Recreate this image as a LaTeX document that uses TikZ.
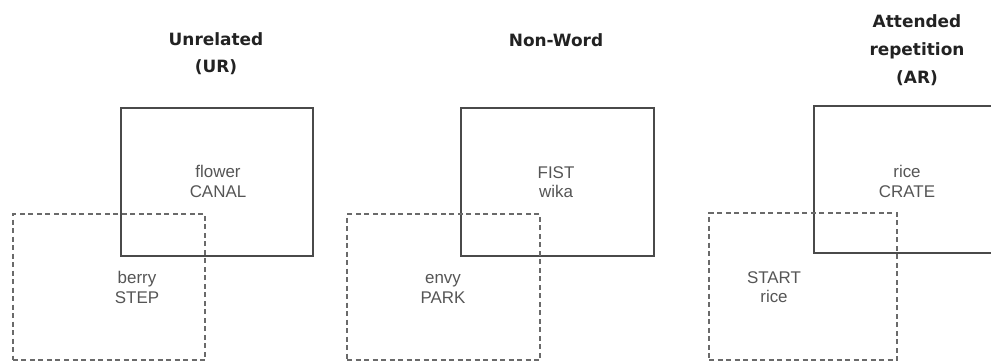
\documentclass[tikz,border=0pt]{standalone}
\usepackage{fontspec}
\setmainfont{Liberation Sans}
\newfontfamily\titlefont{DejaVu Sans}
\definecolor{boxgray}{HTML}{4A4A4A}
\definecolor{dashgray}{HTML}{6A6A6A}
\definecolor{lblgray}{HTML}{555555}
\definecolor{ttlcol}{HTML}{222222}
\begin{document}
\begin{tikzpicture}[x=1bp,y=-1bp,
  solidbox/.style={draw=boxgray, line width=1.4bp, inner sep=0pt, rectangle},
  dashbox/.style={draw=dashgray, line width=1.2bp, dash pattern=on 5bp off 3.5bp, inner sep=0pt, rectangle},
  lbl/.style={text=lblgray, font=\fontsize{17}{20}\selectfont, anchor=base, inner sep=0pt},
  ttl/.style={text=ttlcol, font=\titlefont\bfseries\fontsize{17}{28}\selectfont, anchor=base, inner sep=0pt}]
\useasboundingbox (0,0) rectangle (991,362);
\clip (0,0) rectangle (991,362);
% panel 1
\node[solidbox, minimum width=192bp, minimum height=148bp] (s1) at (217,182) {};
\node[dashbox, minimum width=192bp, minimum height=146bp] (d1) at (109,287) {};
\node[ttl] (t1a) at (216,45) {Unrelated};
\node[ttl] (t1b) at (216,72) {(UR)};
\node[lbl] (a1) at (218,177) {flower};
\node[lbl] (b1) at (218,197) {CANAL};
\node[lbl] (c1) at (137,283) {berry};
\node[lbl] (e1) at (137,303) {STEP};
% panel 2
\node[solidbox, minimum width=193bp, minimum height=148bp] (s2) at (557.5,182) {};
\node[dashbox, minimum width=193bp, minimum height=146bp] (d2) at (443.5,287) {};
\node[ttl] (t2a) at (556,46) {Non-Word};
\node[lbl] (a2) at (556,178) {FIST};
\node[lbl] (b2) at (556,197) {wika};
\node[lbl] (c2) at (443,283) {envy};
\node[lbl] (e2) at (443,303) {PARK};
% panel 3
\node[solidbox, minimum width=186bp, minimum height=147bp] (s3) at (907,179.5) {};
\node[dashbox, minimum width=188bp, minimum height=147bp] (d3) at (803,286.5) {};
\node[ttl] (t3a) at (917,27) {Attended};
\node[ttl] (t3b) at (917,55) {repetition};
\node[ttl] (t3c) at (917,83) {(AR)};
\node[lbl] (a3) at (907,177) {rice};
\node[lbl] (b3) at (907,197) {CRATE};
\node[lbl] (c3) at (774,283) {START};
\node[lbl] (e3) at (774,302) {rice};
\end{tikzpicture}
\end{document}
